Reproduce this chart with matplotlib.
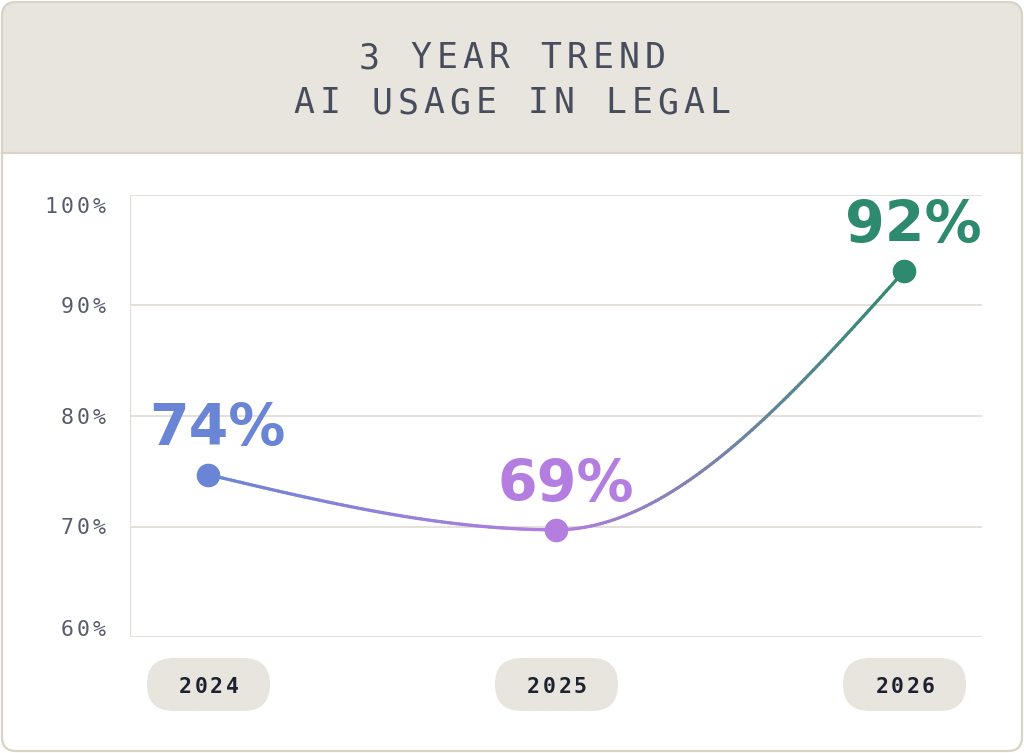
import numpy as np
import matplotlib
matplotlib.use('Agg')
import matplotlib.pyplot as plt
from matplotlib.patches import FancyBboxPatch, Rectangle
from matplotlib.collections import LineCollection
from matplotlib.colors import to_rgb

# data
years = ['2024', '2025', '2026']
values = [74.7, 69.7, 93.1]
labels = ['74%', '69%', '92%']
point_colors = ['#6a85d5', '#b47ee0', '#2e8a6e']
yticks = [60, 70, 80, 90, 100]
title_lines = ['3 YEAR TREND', 'AI USAGE IN LEGAL']

W, H = 1024, 753
BEIGE = '#e8e5df'
BORDER = '#d9d3c8'
GRID = '#e0dcd3'
MONO = 'DejaVu Sans Mono'

fig = plt.figure(figsize=(W / 100, H / 100), dpi=100)
fig.patch.set_facecolor('white')

# overlay in pixel coords (top origin) for the card, header and pills
ov = fig.add_axes([0, 0, 1, 1], zorder=0)
ov.set_xlim(0, W)
ov.set_ylim(H, 0)
ov.axis('off')

ax = fig.add_axes([130 / W, 1 - 637 / H, 852 / W, 442 / H], zorder=1)
ax.patch.set_visible(False)


def spaced(x, y, s, pitch, size, color, weight='normal', align='center'):
    n = len(s)
    if align == 'center':
        x0 = x - pitch * (n - 1) / 2
    else:
        x0 = x - pitch * (n - 1)
    for i, ch in enumerate(s):
        ov.text(x0 + i * pitch, y, ch, fontsize=size, color=color, family=MONO,
                weight=weight, ha='center', va='baseline')


# card + header
ov.add_patch(FancyBboxPatch((2, 2), W - 4, H - 4, boxstyle='round,pad=0,rounding_size=14',
                            fc='white', ec='none'))
ov.add_patch(FancyBboxPatch((2, 2), W - 4, 151, boxstyle='round,pad=0,rounding_size=14',
                            fc=BEIGE, ec='none'))
ov.add_patch(Rectangle((2, 120), W - 4, 33, fc=BEIGE, ec='none'))
ov.plot([2, W - 2], [153, 153], color=BORDER, lw=1.6)
ov.add_patch(FancyBboxPatch((2, 2), W - 4, H - 4, boxstyle='round,pad=0,rounding_size=14',
                            fc='none', ec=BORDER, lw=1.6))

spaced(512, 68, title_lines[0], 26, 25, '#474d5c')
spaced(512, 113, title_lines[1], 26, 25, '#474d5c')

# axes
x = np.arange(len(years))
ax.set_xlim(-0.224, 2.224)
ax.set_ylim(60, 100)
for v in yticks:
    ax.axhline(v, color=GRID, lw=1.2, zorder=0)
ax.axvline(-0.224, color=GRID, lw=1.5, zorder=0)
ax.set_xticks([])
ax.set_yticks([])
for sp in ax.spines.values():
    sp.set_visible(False)

fig.canvas.draw()


def to_px(xd, yd):
    dx, dy = ax.transData.transform((xd, yd))
    return dx, H - dy


# y tick labels, kept inside the plot range
_, top = to_px(0, 100)
_, bot = to_px(0, 60)
for v in yticks:
    _, gy = to_px(0, v)
    cy = np.clip(gy, top + 10, bot - 8)
    spaced(107 - 8, cy + 7.5, '%d%%' % v, 16, 15.5, '#565c6c', align='right')

# year pills
for i, yr in enumerate(years):
    px, _ = to_px(i, 60)
    ov.add_patch(FancyBboxPatch((px - 61, 658), 123, 53,
                                boxstyle='round,pad=0,rounding_size=26.5',
                                fc=BEIGE, ec='none'))
    spaced(px + 1, 693, yr, 15.5, 15.5, '#1e2230', weight='bold')

# monotone cubic curve (d3 monotoneX style)
yv = np.array(values, dtype=float)
s = np.diff(yv)
t = np.zeros(len(yv))
for i in range(1, len(yv) - 1):
    if s[i - 1] * s[i] > 0:
        p = (s[i - 1] + s[i]) / 2
        t[i] = (np.sign(s[i - 1]) + np.sign(s[i])) * min(abs(s[i - 1]), abs(s[i]), 0.5 * abs(p))
t[0] = (3 * s[0] - t[1]) / 2
t[-1] = (3 * s[-1] - t[-2]) / 2

xs, ys = [], []
for i in range(len(yv) - 1):
    u = np.linspace(0, 1, 120)
    h00 = 2 * u**3 - 3 * u**2 + 1
    h10 = u**3 - 2 * u**2 + u
    h01 = -2 * u**3 + 3 * u**2
    h11 = u**3 - u**2
    xs.append(i + u)
    ys.append(h00 * yv[i] + h10 * t[i] + h01 * yv[i + 1] + h11 * t[i + 1])
xs = np.concatenate(xs)
ys = np.concatenate(ys)

stops = np.array([to_rgb(c) for c in point_colors])
pos = np.linspace(0, 2, len(stops))
mid = (xs[:-1] + xs[1:]) / 2
cols = np.column_stack([np.interp(mid, pos, stops[:, k]) for k in range(3)])
segs = np.stack([np.column_stack([xs[:-1], ys[:-1]]), np.column_stack([xs[1:], ys[1:]])], axis=1)
ax.add_collection(LineCollection(segs, colors=cols, lw=2.3, capstyle='round', zorder=2))

for i in range(len(years)):
    ax.plot(x[i], values[i], 'o', ms=17, color=point_colors[i], mew=0, zorder=3,
            clip_on=False)
    ax.annotate(labels[i], (x[i], values[i]), xytext=(7, 21), textcoords='offset points',
                ha='center', va='baseline', fontsize=41, weight='bold',
                color=point_colors[i], family='DejaVu Sans', zorder=4)

fig.savefig('out.png', dpi=100)
